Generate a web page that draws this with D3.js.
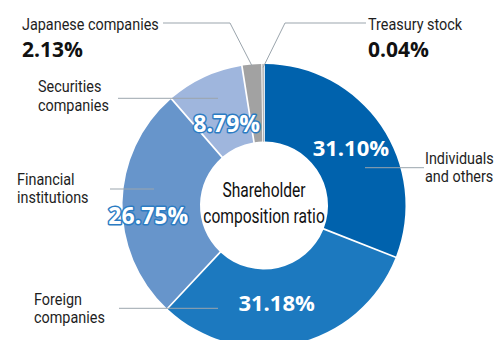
<!DOCTYPE html>
<html>
<head>
<meta charset="utf-8">
<script src="https://cdn.jsdelivr.net/npm/d3@7"></script>
<style>
  html, body { margin: 0; padding: 0; background: #fff; }
  svg { display: block; }
</style>
</head>
<body>
<svg id="chart" width="496" height="340"></svg>
<script>
// Shareholder composition (%), clockwise from 12 o'clock
const categories = [
  "Individuals and others",
  "Foreign companies",
  "Financial institutions",
  "Securities companies",
  "Japanese companies",
  "Treasury stock"
];
const shares = [31.10, 31.18, 26.75, 8.79, 2.13, 0.04];
const valueLabels = ["31.10%", "31.18%", "26.75%", "8.79%", "2.13%", "0.04%"];
const nameLines = [
  ["Individuals", "and others"],
  ["Foreign", "companies"],
  ["Financial", "institutions"],
  ["Securities", "companies"],
  ["Japanese companies"],
  ["Treasury stock"]
];
const centerTitle = ["Shareholder", "composition ratio"];

// ---- styling / layout ----
const W = 496, H = 340;
const cx = 264, cy = 205.5;
const outerR = 141.5, innerR = 64;
const colors = ["#0062ad", "#1c79bf", "#6795cb", "#9fb6dd", "#a2a2a2", "#b5b5b5"];
const leaderColor = "#9ba5ad";
const textColor = "#1e1e1e";
const labelFont = "Roboto, 'Liberation Sans', sans-serif";
const numFont = "'Open Sans', 'Noto Sans', sans-serif";
const labelSquash = 0.9;   // horizontal compression of the name labels

// inside-ring value labels: nudge from the slice centroid, size, outline
const insideLayout = {
  0: { dx: 2,   dy: 0,  size: 22, outline: false },
  1: { dx: -10, dy: -3, size: 22, outline: false },
  2: { dx: -13, dy: 12, size: 23, outline: true },
  3: { dx: 6,   dy: 11, size: 23, outline: true }
};
// outside name labels: text anchor (left, first baseline) and leader path
const outsideLayout = {
  0: { x: 425, y: 163.5, leader: [[424, 167.7], [365, 167.7]] },
  1: { x: 34,  y: 304.5, leader: [[119, 308.3], [218, 308.3]] },
  2: { x: 17,  y: 185,   leader: [[110, 189], [154, 189]] },
  3: { x: 38,  y: 92.3,  leader: [[118, 98.3], [218, 98.3]] },
  4: { x: 22,  y: 29.5,  leader: [[163, 23], [230, 23]], toRing: 140, value: { x: 22, y: 57 } },
  5: { x: 368, y: 29.5,  leader: [[366, 23], [285, 23]], toRing: 138, value: { x: 368, y: 57 } }
};

const svg = d3.select("#chart");
const g = svg.append("g").attr("transform", `translate(${cx},${cy})`);

const pie = d3.pie().sort(null).value(d => d).padAngle(0.011);
const arcs = pie(shares);
const arc = d3.arc().innerRadius(innerR).outerRadius(outerR);

// ring slices; the tiny slice gets a hairline so it stays visible
g.selectAll("path.slice")
  .data(arcs)
  .join("path")
  .attr("class", "slice")
  .attr("d", arc)
  .attr("fill", (d, i) => colors[i])
  .attr("stroke", (d, i) => colors[i])
  .attr("stroke-width", d => (d.value < 0.5 ? 1 : 0));

// leader lines
const lines = svg.append("g")
  .attr("fill", "none")
  .attr("stroke", leaderColor)
  .attr("stroke-width", 1);

arcs.forEach((d, i) => {
  const L = outsideLayout[i];
  const pts = L.leader.slice();
  if (L.toRing) {
    const mid = (d.startAngle + d.endAngle) / 2;
    pts.push([cx + L.toRing * Math.sin(mid), cy - L.toRing * Math.cos(mid)]);
  }
  lines.append("path").attr("d", d3.line()(pts));
});

// outside name labels
arcs.forEach((d, i) => {
  const L = outsideLayout[i];
  const t = svg.append("g")
    .attr("transform", `translate(${L.x},${L.y}) scale(${labelSquash},1)`)
    .append("text")
    .attr("font-family", labelFont)
    .attr("font-size", 16)
    .attr("fill", textColor);
  nameLines[i].forEach((s, k) => {
    t.append("tspan").attr("x", 0).attr("y", k * 18.3).text(s);
  });
  if (L.value) {
    svg.append("text")
      .attr("x", L.value.x).attr("y", L.value.y)
      .attr("font-family", numFont)
      .attr("font-weight", 700)
      .attr("font-size", 21)
      .attr("fill", "#111")
      .text(valueLabels[i]);
  }
});

// value labels inside the ring
arcs.forEach((d, i) => {
  const L = insideLayout[i];
  if (!L) return;
  const [x, y] = arc.centroid(d);
  const t = g.append("text")
    .attr("x", x + L.dx)
    .attr("y", y + L.dy + L.size * 0.36)
    .attr("text-anchor", "middle")
    .attr("font-family", numFont)
    .attr("font-weight", 700)
    .attr("font-size", L.size)
    .attr("fill", "#fff")
    .text(valueLabels[i]);
  if (L.outline) {
    t.attr("stroke", "#2c7cc3")
      .attr("stroke-width", 3)
      .attr("stroke-linejoin", "round")
      .attr("paint-order", "stroke");
  }
});

// centre title, set in a condensed cut
const title = g.append("g").attr("transform", "scale(0.76,1)");
title.append("text")
  .attr("text-anchor", "middle")
  .attr("font-family", labelFont)
  .attr("font-size", 20.5)
  .attr("fill", "#111")
  .selectAll("tspan")
  .data(centerTitle)
  .join("tspan")
  .attr("x", 0)
  .attr("y", (d, k) => (k === 0 ? -8.5 : 17.5))
  .text(d => d);
</script>
</body>
</html>
